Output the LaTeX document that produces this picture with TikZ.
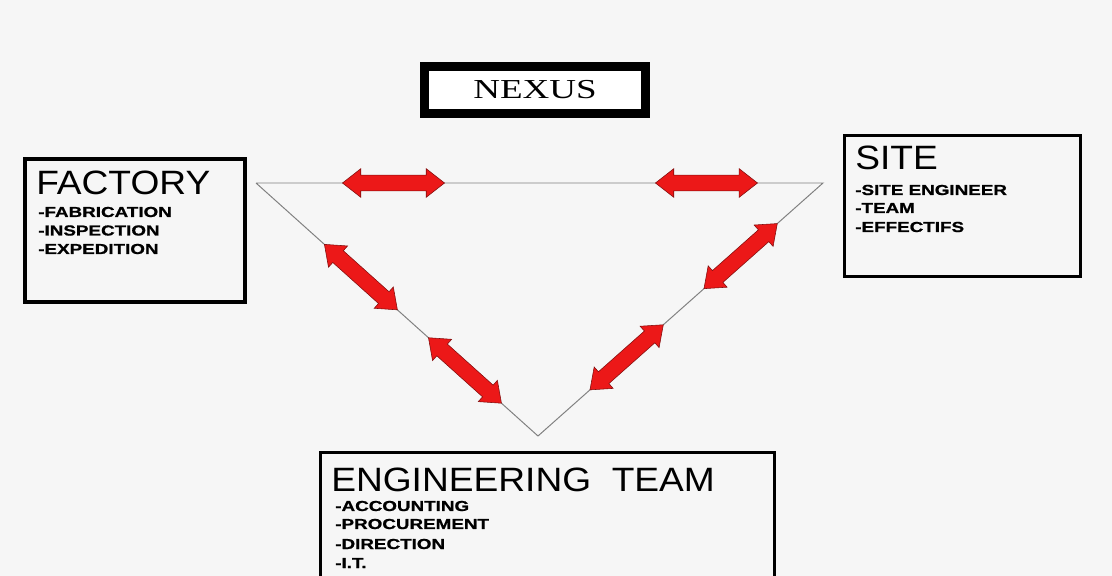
\documentclass[tikz,border=0pt]{standalone}
\usepackage{fontspec}
\usepackage{tikz}
\usetikzlibrary{shapes.arrows}
\setmainfont{Liberation Sans}
\newfontfamily\headfont[FakeStretch=1.1]{Liberation Sans}
\newfontfamily\itemfont[FakeStretch=1.3,FakeBold=1]{Liberation Sans}
\newfontfamily\nexusfont[FakeStretch=1.35]{Liberation Serif}
\definecolor{paper}{RGB}{246,246,246}
\definecolor{arrowred}{RGB}{236,24,24}

\begin{document}
\begin{tikzpicture}[x=0.025cm,y=-0.025cm,
  box/.style={draw=black,line width=2.5pt,rectangle,inner sep=0pt},
  head/.style={font=\headfont\fontsize{24}{28}\selectfont,inner sep=0pt,anchor=base west},
  item/.style={font=\itemfont\bfseries\fontsize{10.3}{12}\selectfont,inner sep=0pt,anchor=base west},
  side/.style={draw=gray,line width=0.7pt},
  twoway/.style={double arrow,fill=arrowred,draw=arrowred!55!black,line width=0.4pt,
    minimum height=#1,inner xsep=0pt,inner ysep=0.19cm,
    double arrow head extend=0.16cm,double arrow tip angle=76,sloped},
  twoway/.default=2.45cm]
\useasboundingbox (0,0) rectangle (1112,576);
\fill [paper] (0,0) rectangle (1112,576);
% title
\node [box,fill=white,line width=0.225cm,minimum width=5.525cm,minimum height=1.175cm] (nexus) at (535,90)
  {\nexusfont\fontsize{19.5}{22}\selectfont NEXUS};
% the three parties
\node [box,minimum width=5.5cm,minimum height=3.575cm] (factory) at (135,230.5) {};
\node [head] (factoryT) at (36,195) {FACTORY};
\node [item] (fab) at (38,217) {-FABRICATION};
\node [item] (insp) at (38,235.5) {-INSPECTION};
\node [item] (exped) at (38,254) {-EXPEDITION};
\node [box,minimum width=5.9cm,minimum height=3.525cm] (site) at (962.5,206) {};
\node [head] (siteT) at (855,170) {SITE};
\node [item] (eng) at (855,195) {-SITE ENGINEER};
\node [item] (team) at (855,213) {-TEAM};
\node [item] (eff) at (855,232) {-EFFECTIFS};
\node [box,minimum width=11.35cm,minimum height=3.675cm] (engteam) at (547.5,526) {};
\node [head] (engteamT) at (331,491) {ENGINEERING\ \ TEAM};
\node [item] (acc) at (335,511) {-ACCOUNTING};
\node [item] (proc) at (335,529) {-PROCUREMENT};
\node [item] (dir) at (335,549) {-DIRECTION};
\node [item] (it) at (335,568) {-I.T.};
% triangle with the red arrows
\coordinate (fc) at (256,183);
\coordinate (sc) at (823,183);
\coordinate (ec) at (538,436);
\draw [side] (fc) -- (sc)
    node [twoway=2.55cm,pos=0.2425] (a1) {}
    node [twoway=2.55cm,pos=0.7945] (a2) {}
  -- (ec)
    node [twoway,pos=0.289] (a3) {}
    node [twoway,pos=0.689] (a4) {}
  -- (fc)
    node [twoway,pos=0.259] (a5) {}
    node [twoway,pos=0.628] (a6) {};
\end{tikzpicture}
\end{document}
